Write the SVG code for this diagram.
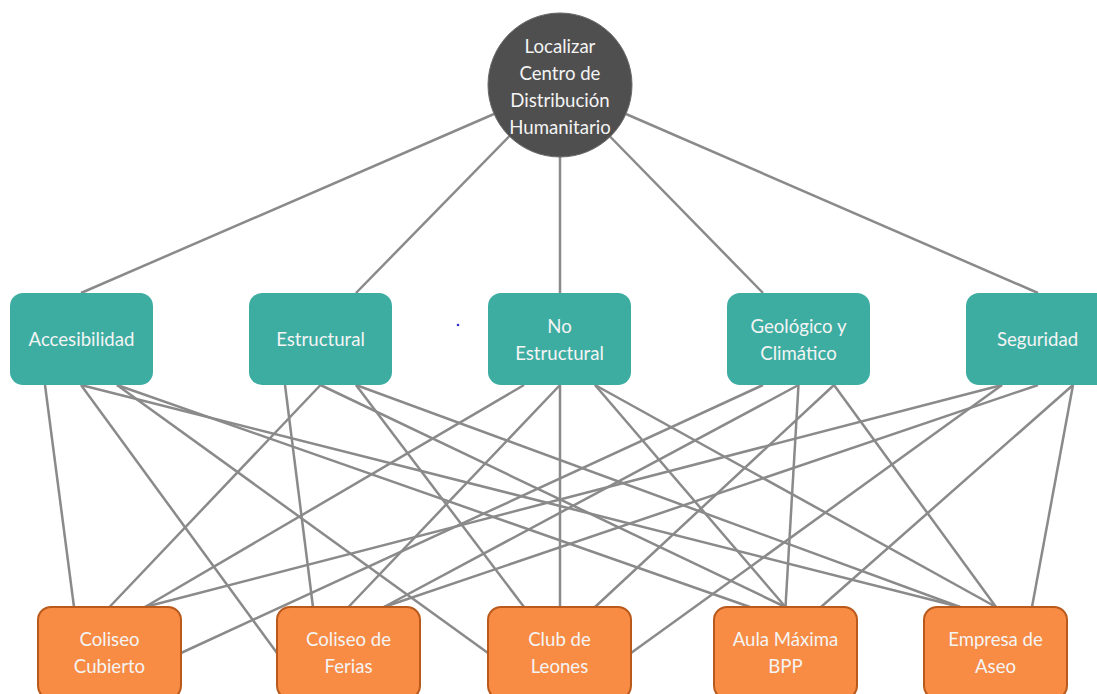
<svg xmlns="http://www.w3.org/2000/svg" width="1097" height="694" viewBox="0 0 1097 694">
<style>
.e{stroke:#8a8a8a;stroke-width:2.5;fill:none}
.t{font-family:Lato,"Liberation Sans",sans-serif;font-size:18.6px;fill:#f4f4f4;text-anchor:middle}
.c{fill:#3dada2}
.o{fill:#f88c44;stroke:#b95a1c;stroke-width:2}
</style>
<rect width="1097" height="694" fill="#ffffff"/>
<g id="connectors">
<line class="e" x1="494" y1="114" x2="81" y2="293"/>
<line class="e" x1="509.5" y1="136" x2="356" y2="293"/>
<line class="e" x1="560" y1="157" x2="560" y2="293"/>
<line class="e" x1="610" y1="136.5" x2="763" y2="293"/>
<line class="e" x1="626" y1="114" x2="1038" y2="293"/>
<line class="e" x1="45" y1="385" x2="74" y2="607"/>
<line class="e" x1="81" y1="385" x2="277" y2="653"/>
<line class="e" x1="81" y1="385" x2="960" y2="607"/>
<line class="e" x1="117" y1="385" x2="488" y2="653"/>
<line class="e" x1="117" y1="385" x2="750" y2="607"/>
<line class="e" x1="285" y1="385" x2="313" y2="607"/>
<line class="e" x1="320.5" y1="385" x2="109.5" y2="607"/>
<line class="e" x1="320.5" y1="385" x2="785.5" y2="607"/>
<line class="e" x1="356" y1="385" x2="524" y2="607"/>
<line class="e" x1="356" y1="385" x2="960" y2="607"/>
<line class="e" x1="524" y1="385" x2="145" y2="607"/>
<line class="e" x1="560" y1="385" x2="348.5" y2="607"/>
<line class="e" x1="560" y1="385" x2="560" y2="607"/>
<line class="e" x1="595" y1="385" x2="785.5" y2="607"/>
<line class="e" x1="595" y1="385" x2="996" y2="607"/>
<line class="e" x1="763" y1="385" x2="181" y2="653"/>
<line class="e" x1="798.5" y1="385" x2="384" y2="607"/>
<line class="e" x1="798.5" y1="385" x2="785.5" y2="607"/>
<line class="e" x1="834" y1="385" x2="595" y2="607"/>
<line class="e" x1="834" y1="385" x2="996" y2="607"/>
<line class="e" x1="1002" y1="385" x2="145" y2="607"/>
<line class="e" x1="1002" y1="385" x2="631" y2="653"/>
<line class="e" x1="1038" y1="385" x2="384" y2="607"/>
<line class="e" x1="1073" y1="385" x2="821" y2="607"/>
<line class="e" x1="1073" y1="385" x2="1032" y2="607"/>
</g>
<g id="goal">
<circle cx="560" cy="85" r="72" fill="#4f4f4f" stroke="#6a6a6a" stroke-width="1"/>
<text class="t" x="560" y="53">Localizar</text>
<text class="t" x="560" y="80">Centro de</text>
<text class="t" x="560" y="107">Distribución</text>
<text class="t" x="560" y="134">Humanitario</text>
</g>
<g id="accesibilidad">
<rect class="c" x="10" y="293" width="143" height="92" rx="13"/>
<text class="t" x="81.5" y="346">Accesibilidad</text>
</g>
<g id="estructural">
<rect class="c" x="249" y="293" width="143" height="92" rx="13"/>
<text class="t" x="320.5" y="346">Estructural</text>
</g>
<g id="no-estructural">
<rect class="c" x="488" y="293" width="143" height="92" rx="13"/>
<text class="t" x="559.5" y="333">No</text>
<text class="t" x="559.5" y="360">Estructural</text>
</g>
<g id="geologico">
<rect class="c" x="727" y="293" width="143" height="92" rx="13"/>
<text class="t" x="798.5" y="333">Geológico y</text>
<text class="t" x="798.5" y="360">Climático</text>
</g>
<g id="seguridad">
<rect class="c" x="966" y="293" width="143" height="92" rx="13"/>
<text class="t" x="1037.5" y="346">Seguridad</text>
</g>
<g id="coliseo-cubierto">
<rect class="o" x="38" y="607" width="143" height="92" rx="13"/>
<text class="t" x="109.5" y="646">Coliseo</text>
<text class="t" x="109.5" y="673">Cubierto</text>
</g>
<g id="coliseo-ferias">
<rect class="o" x="277" y="607" width="143" height="92" rx="13"/>
<text class="t" x="348.5" y="646">Coliseo de</text>
<text class="t" x="348.5" y="673">Ferias</text>
</g>
<g id="club-leones">
<rect class="o" x="488" y="607" width="143" height="92" rx="13"/>
<text class="t" x="559.5" y="646">Club de</text>
<text class="t" x="559.5" y="673">Leones</text>
</g>
<g id="aula-maxima">
<rect class="o" x="714" y="607" width="143" height="92" rx="13"/>
<text class="t" x="785.5" y="646">Aula Máxima</text>
<text class="t" x="785.5" y="673">BPP</text>
</g>
<g id="empresa-aseo">
<rect class="o" x="924" y="607" width="143" height="92" rx="13"/>
<text class="t" x="995.5" y="646">Empresa de</text>
<text class="t" x="995.5" y="673">Aseo</text>
</g>
<circle cx="458" cy="325" r="1.3" fill="#3333cc"/>
</svg>
